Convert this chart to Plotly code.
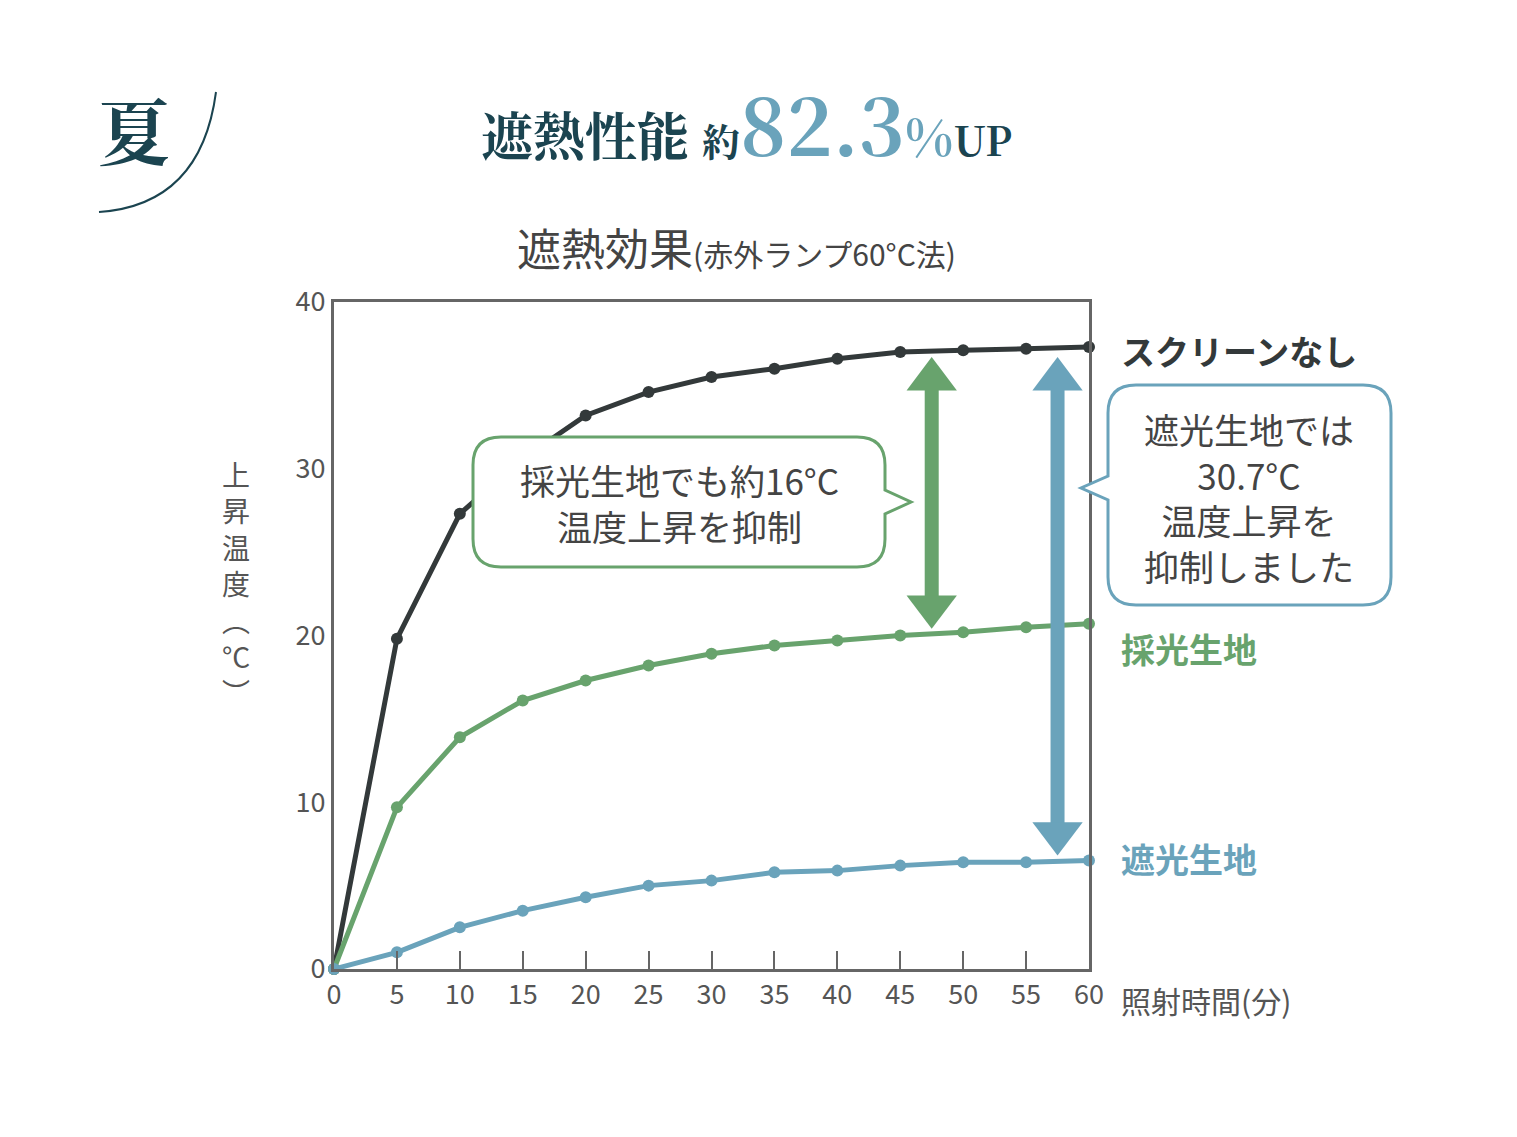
import plotly.graph_objects as go

minutes = [0, 5, 10, 15, 20, 25, 30, 35, 40, 45, 50, 55, 60]
no_screen = [0, 19.8, 27.3, 30.6, 33.2, 34.6, 35.5, 36.0, 36.6, 37.0, 37.1, 37.2, 37.3]
light_fabric = [0, 9.7, 13.9, 16.1, 17.3, 18.2, 18.9, 19.4, 19.7, 20.0, 20.2, 20.5, 20.7]
blackout_fabric = [0, 1.0, 2.5, 3.5, 4.3, 5.0, 5.3, 5.8, 5.9, 6.2, 6.4, 6.4, 6.5]
x_ticks = [0, 5, 10, 15, 20, 25, 30, 35, 40, 45, 50, 55, 60]
y_ticks = [0, 10, 20, 30, 40]

BLACK = "#33393a"; GREEN = "#68a36d"; BLUE = "#6aa3bb"; NAVY = "#1b4450"
FONT = "Noto Sans CJK JP"
W, H = 1517, 1137
OX, OY = 7, 8
L, R, T, B = 333, 1088, 302, 969

def px(x): return (x - L) / (R - L)
def py(y): return (B - y) / (B - T)

fig = go.Figure()
for ys, c in [(no_screen, BLACK), (light_fabric, GREEN), (blackout_fabric, BLUE)]:
    fig.add_trace(go.Scatter(x=minutes, y=ys, mode="lines+markers",
                             line=dict(color=c, width=5), marker=dict(color=c, size=12),
                             showlegend=False, cliponaxis=False))

shapes = []
def arrow(xd, y1, y2, c):
    shapes.append(dict(type="line", xref="x", yref="y", x0=xd, x1=xd, y0=y1 - 1.5, y1=y2 + 1.5,
                       line=dict(color=c, width=14)))
    hw, hh = 2.0, 2.0
    shapes.append(dict(type="path", xref="x", yref="y", fillcolor=c, line=dict(width=0),
                       path=f"M{xd-hw},{y1-hh} L{xd+hw},{y1-hh} L{xd},{y1} Z"))
    shapes.append(dict(type="path", xref="x", yref="y", fillcolor=c, line=dict(width=0),
                       path=f"M{xd-hw},{y2+hh} L{xd+hw},{y2+hh} L{xd},{y2} Z"))
arrow(47.5, 36.7, 20.4, GREEN)
arrow(57.5, 36.7, 6.8, BLUE)

def callout(x0, y0, x1, y1, r, tail, c):
    side, ty, tx, tyy = tail
    p = [f"M{px(x0+r)},{py(y0)}", f"L{px(x1-r)},{py(y0)}",
         f"Q{px(x1)},{py(y0)} {px(x1)},{py(y0+r)}"]
    if side == "right":
        p += [f"L{px(x1)},{py(ty-12)}", f"L{px(tx)},{py(tyy)}", f"L{px(x1)},{py(ty+12)}"]
    p += [f"L{px(x1)},{py(y1-r)}", f"Q{px(x1)},{py(y1)} {px(x1-r)},{py(y1)}",
          f"L{px(x0+r)},{py(y1)}", f"Q{px(x0)},{py(y1)} {px(x0)},{py(y1-r)}"]
    if side == "left":
        p += [f"L{px(x0)},{py(ty+12)}", f"L{px(tx)},{py(tyy)}", f"L{px(x0)},{py(ty-12)}"]
    p += [f"L{px(x0)},{py(y0+r)}", f"Q{px(x0)},{py(y0)} {px(x0+r)},{py(y0)}", "Z"]
    shapes.append(dict(type="path", xref="paper", yref="paper", path=" ".join(p),
                       fillcolor="white", line=dict(color=c, width=3)))
callout(472, 437, 884, 567, 28, ("right", 502, 910, 502), GREEN)
callout(1107, 385, 1390, 605, 28, ("left", 488, 1080, 488), BLUE)

shapes.append(dict(type="path", xref="paper", yref="paper",
                   path=f"M{px(215)},{py(92)} Q{px(200)},{py(205)} {px(98)},{py(212)}",
                   line=dict(color=NAVY, width=2)))

ann = []
def text(x, y, t, size, color, bold=False, xanchor="center", family=FONT, **kw):
    ann.append(dict(x=px(x), y=py(y), xref="paper", yref="paper", text=(f"<b>{t}</b>" if bold else t),
                    showarrow=False, xanchor=xanchor, yanchor="middle",
                    font=dict(size=size, color=color, family=family), **kw))
text(133, 128, "夏", 72, NAVY, True, family="Noto Serif CJK JP, Noto Sans CJK JP")
text(745, 122, "遮熱性能 <span style='font-size:38px'>約</span>"
     f"<span style='font-size:78px;color:{BLUE}'>82.3</span>"
     f"<span style='font-size:50px;color:{BLUE}'>%</span><span style='font-size:40px'>UP</span>",
     52, NAVY, True, family="Noto Serif CJK JP, DejaVu Serif, Noto Sans CJK JP")
text(735, 247, "遮熱効果<span style='font-size:30px'>(赤外ランプ60°C法)</span>", 44, "#444")
text(678, 502, "採光生地でも約16°C<br>温度上昇を抑制", 35, "#444")
text(1248, 497, "遮光生地では<br>30.7°C<br>温度上昇を<br>抑制しました", 35, "#444")
text(1118, 350, "スクリーンなし", 34, BLACK, True, "left")
text(1118, 648, "採光生地", 34, GREEN, True, "left")
text(1118, 858, "遮光生地", 34, BLUE, True, "left")
text(1118, 1000, "照射時間(分)", 30, "#555", False, "left")
text(235, 583, "上<br>昇<br>温<br>度<br>︵<br>°C<br>︶", 28, "#555")

fig.update_layout(
    width=W, height=H, margin=dict(l=L - OX, r=W - R + OX, t=T - OY, b=H - B + OY),
    plot_bgcolor="white", paper_bgcolor="white", shapes=shapes, annotations=ann,
    xaxis=dict(range=[0, 60], tickvals=x_ticks, showgrid=False, zeroline=False,
               showline=True, mirror=True, linecolor="#666", linewidth=3,
               ticks="inside", ticklen=18, tickcolor="#666", tickwidth=1.5,
               tickfont=dict(size=27, color="#555", family=FONT)),
    yaxis=dict(range=[0, 40], tickvals=y_ticks, showgrid=False, zeroline=False,
               showline=True, mirror=True, linecolor="#666", linewidth=3,
               ticks="", tickfont=dict(size=27, color="#555", family=FONT)),
)
fig.write_html("out.html")
